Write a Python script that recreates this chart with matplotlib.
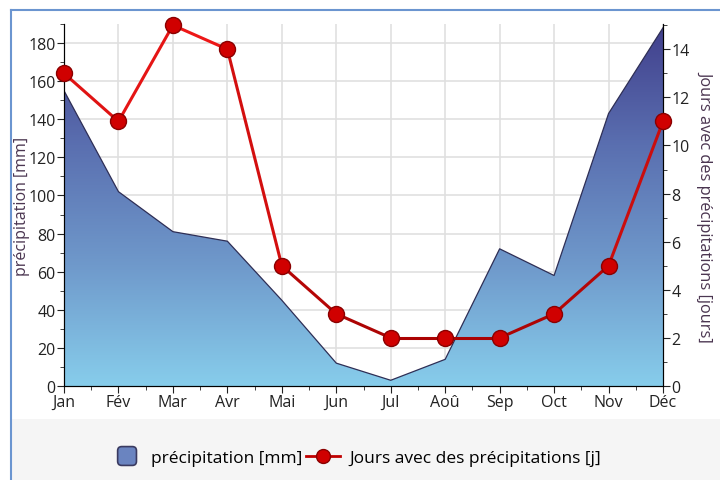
import numpy as np
import matplotlib
matplotlib.use("Agg")
import matplotlib.pyplot as plt
from matplotlib.colors import LinearSegmentedColormap
from matplotlib.collections import LineCollection
from matplotlib.lines import Line2D
from matplotlib.patches import Rectangle, Patch, FancyBboxPatch
from matplotlib.legend_handler import HandlerPatch
from matplotlib.ticker import MultipleLocator

plt.rcParams['font.family'] = ['Open Sans', 'DejaVu Sans']

# data
months = ['Jan', 'Fév', 'Mar', 'Avr', 'Mai', 'Jun', 'Jul', 'Aoû', 'Sep', 'Oct', 'Nov', 'Déc']
precip_mm = [155, 102, 81, 76, 45, 12, 3, 14, 72, 58, 143, 188]
rain_days = [13, 11, 15, 14, 5, 3, 2, 2, 2, 3, 5, 11]

label_color = '#4a3550'
tick_color = '#222222'
x = np.arange(len(months))


class SquareHandler(HandlerPatch):
    # small rounded square for the area entry
    def create_artists(self, legend, orig_handle, xdescent, ydescent, width, height, fontsize, trans):
        side = height * 1.55
        x0 = width - side - 4
        y0 = (height - side) / 2 - ydescent
        p = FancyBboxPatch((x0, y0), side, side, boxstyle='round,pad=0,rounding_size=3',
                           facecolor=orig_handle.get_facecolor(), edgecolor=orig_handle.get_edgecolor(),
                           lw=1.2, transform=trans)
        return [p]


fig = plt.figure(figsize=(7.2, 4.81), dpi=100)

# legend band and frame
fig.patches.append(Rectangle((10 / 720, 0), 1, (481 - 420) / 481, transform=fig.transFigure,
                             facecolor='#f5f5f5', edgecolor='none', zorder=0))
fig.add_artist(Line2D([11 / 720, 11 / 720], [0, 1 - 11 / 481], color='#6b95d0', lw=1.5,
                      transform=fig.transFigure))
fig.add_artist(Line2D([11 / 720, 1], [1 - 11 / 481, 1 - 11 / 481], color='#6b95d0', lw=1.5,
                      transform=fig.transFigure))

ax = fig.add_axes([64 / 720, 1 - 387 / 481, (663 - 64) / 720, (387 - 25) / 481])
ax.set_xlim(0, 11)
ax.set_ylim(0, 190)

# gradient filled area
cmap = LinearSegmentedColormap.from_list('rain', ['#87cdeb', '#6f99cb', '#5a6fb0', '#413f8c'])
poly = ax.fill_between(x, precip_mm, 0, facecolor='none', edgecolor='none')
grad = np.linspace(0, 1, 256).reshape(-1, 1)
img = ax.imshow(grad, cmap=cmap, origin='lower', extent=[0, 11, 0, 190], aspect='auto', zorder=1)
img.set_clip_path(poly.get_paths()[0], transform=ax.transData)
ax.plot(x, precip_mm, color='#2e2e55', lw=0.9, zorder=2)

ax.yaxis.set_major_locator(MultipleLocator(20))
ax.yaxis.set_minor_locator(MultipleLocator(10))
ax.set_xticks(x)
ax.set_xticklabels(months)
ax.xaxis.set_minor_locator(MultipleLocator(0.5))
ax.grid(True, which='major', color='#e0e0e0', lw=1.2, zorder=0)
ax.set_axisbelow(True)
ax.tick_params(which='major', length=5, labelsize=11.5, colors=tick_color, pad=1)
ax.tick_params(which='minor', length=3, color=tick_color)
ax.spines['top'].set_visible(False)
for s in ['left', 'right', 'bottom']:
    ax.spines[s].set_color(tick_color)
ax.set_ylabel('précipitation [mm]', color=label_color, fontsize=11.5, labelpad=-1)

ax2 = ax.twinx()
ax2.set_ylim(0, 15.05)
ax2.yaxis.set_major_locator(MultipleLocator(2))
ax2.yaxis.set_minor_locator(MultipleLocator(1))
ax2.tick_params(which='major', length=5, labelsize=11.5, colors=tick_color, pad=1)
ax2.tick_params(which='minor', length=3, color=tick_color)
ax2.spines['top'].set_visible(False)
ax2.set_ylabel('Jours avec des précipitations [jours]', color=label_color, fontsize=11.8,
               rotation=270, labelpad=17)

# red line, darker toward the bottom
pts = np.column_stack([x, rain_days])
segs = np.stack([pts[:-1], pts[1:]], axis=1)
red_cmap = LinearSegmentedColormap.from_list('reds', ['#a00000', '#f01818'])
mid = (np.array(rain_days[:-1]) + np.array(rain_days[1:])) / 2 / 15
lc = LineCollection(segs, colors=red_cmap(mid), lw=2.2, zorder=3)
ax2.add_collection(lc)
ax2.plot(x, rain_days, ls='none', marker='o', ms=11.5, mfc='#d00000', mec='#8a0000', mew=1,
         zorder=4, clip_on=False)

area_handle = Patch(facecolor='#6a84c0', edgecolor='#3a3a60', label='précipitation [mm]')
line_handle = Line2D([], [], color='#c00000', lw=2, marker='o', ms=10, mfc='#d00000', mec='#8a0000',
                     label='Jours avec des précipitations [j]')
fig.legend(handles=[area_handle, line_handle], loc='center', bbox_to_anchor=(354 / 720, 1 - 459 / 481),
           ncol=2, frameon=False, fontsize=12.5, handlelength=2.0, columnspacing=0.2,
           handletextpad=0.5, handler_map={Patch: SquareHandler()})

fig.savefig('out.png', dpi=100)
